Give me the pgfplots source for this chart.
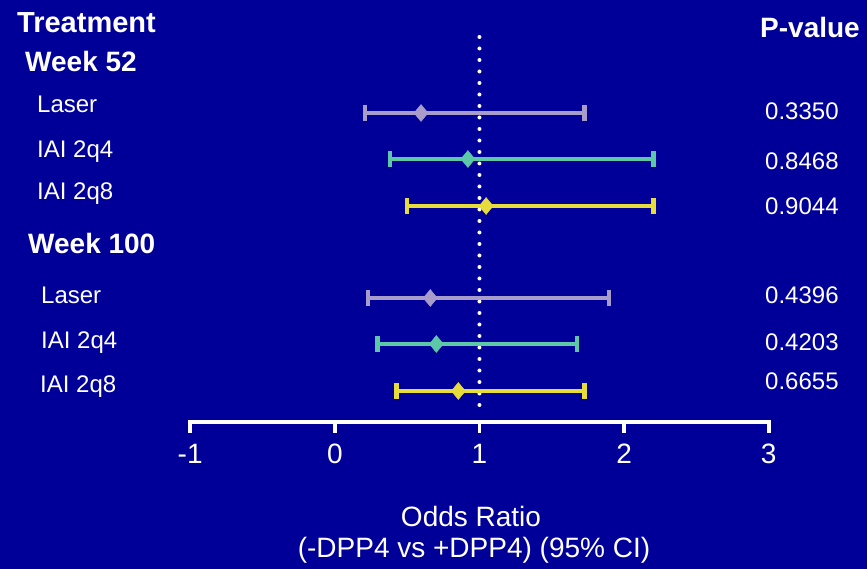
\documentclass[border=0pt]{standalone}
\usepackage{pgfplots}
\pgfplotsset{compat=1.18}
\usepackage{pgfplotstable}
\usepackage{fontspec}
\setmainfont{Liberation Sans}

\definecolor{bg}{HTML}{000099}
\definecolor{laser}{HTML}{A89CCB}
\definecolor{q4}{HTML}{5CC8A8}
\definecolor{q8}{HTML}{E6DC3C}

% odds ratio, lower and upper 95% CI; row = vertical position of the line
\pgfplotstableread{
row  or     lo     hi
113  0.596  0.208  1.726
298  0.660  0.231  1.897
}\laserdata
\pgfplotstableread{
row  or     lo     hi
159  0.920  0.383  2.202
344  0.702  0.296  1.675
}\qfourdata
\pgfplotstableread{
row  or     lo     hi
206  1.046  0.499  2.202
391  0.854  0.428  1.726
}\qeightdata

\newcommand{\pxnode}[4][]{\node[anchor=base west,text=white,inner sep=0pt,#1] at (#2pt,{(569-#3)*1pt}) {#4};}

\pgfplotsset{
  ci/.style={
    color=#1,
    only marks,
    mark=diamond*,
    mark size=8.5pt,
    mark options={xscale=1.1, line width=0.4pt, fill=#1, draw=#1},
    error bars/x dir=both,
    error bars/x explicit,
    error bars/error mark=|,
    error bars/error bar style={#1, line width=4pt},
    error bars/error mark options={#1, line width=4.5pt, mark size=8pt},
  },
}

\begin{document}
\begin{tikzpicture}
\fill[bg] (0,0) rectangle (867pt,569pt);
\begin{axis}[
  at={(0,0)}, anchor=south west,
  scale only axis, width=867pt, height=569pt,
  xmin=-2.3146, xmax=3.6792,
  ymin=0, ymax=569, y dir=reverse,
  hide axis, clip=false,
]
% reference line at OR = 1
\addplot[mark=none, white, line width=4pt, line cap=round,
  dash pattern=on 0pt off 11.5pt] coordinates {(1,37) (1,416)};

\addplot[ci=laser]
  table[x=or, y=row, x error plus expr=\thisrow{hi}-\thisrow{or}, x error minus expr=\thisrow{or}-\thisrow{lo}] {\laserdata};
\addplot[ci=q4]
  table[x=or, y=row, x error plus expr=\thisrow{hi}-\thisrow{or}, x error minus expr=\thisrow{or}-\thisrow{lo}] {\qfourdata};
\addplot[ci=q8]
  table[x=or, y=row, x error plus expr=\thisrow{hi}-\thisrow{or}, x error minus expr=\thisrow{or}-\thisrow{lo}] {\qeightdata};

% x axis
\draw[white, line width=3.5pt] (axis cs:-1,422) -- (axis cs:3,422);
\pgfplotsinvokeforeach{-1,0,1,2,3}{
  \draw[white, line width=3.5pt] (axis cs:#1,420.5) -- (axis cs:#1,433);
  \node[text=white, anchor=base, inner sep=0pt, font=\fontsize{28}{32}\selectfont] at (axis cs:#1,464) {#1};
}
\end{axis}

% row headings
\pxnode[font=\bfseries\fontsize{29}{34}\selectfont]{17}{33}{Treatment}
\pxnode[font=\bfseries\fontsize{28}{33}\selectfont]{25}{72}{Week 52}
\pxnode[font=\fontsize{24}{28}\selectfont]{37}{113}{Laser}
\pxnode[font=\fontsize{24}{28}\selectfont]{37}{158}{IAI 2q4}
\pxnode[font=\fontsize{24}{28}\selectfont]{37}{200}{IAI 2q8}
\pxnode[font=\bfseries\fontsize{28}{33}\selectfont]{28}{254}{Week 100}
\pxnode[font=\fontsize{24}{28}\selectfont]{41}{304}{Laser}
\pxnode[font=\fontsize{24}{28}\selectfont]{41}{349}{IAI 2q4}
\pxnode[font=\fontsize{24}{28}\selectfont]{40}{393}{IAI 2q8}

% p-values
\pxnode[font=\bfseries\fontsize{28}{33}\selectfont]{760}{38}{P-value}
\pxnode[font=\fontsize{24}{28}\selectfont]{765}{120}{0.3350}
\pxnode[font=\fontsize{24}{28}\selectfont]{765}{170}{0.8468}
\pxnode[font=\fontsize{24}{28}\selectfont]{765}{215}{0.9044}
\pxnode[font=\fontsize{24}{28}\selectfont]{765}{304}{0.4396}
\pxnode[font=\fontsize{24}{28}\selectfont]{765}{351}{0.4203}
\pxnode[font=\fontsize{24}{28}\selectfont]{765}{390}{0.6655}

% axis title
\node[anchor=base, text=white, inner sep=0pt, font=\fontsize{28}{32}\selectfont] at (471pt,{(569-527)*1pt}) {Odds Ratio};
\node[anchor=base, text=white, inner sep=0pt, font=\fontsize{28}{32}\selectfont] at (474pt,{(569-558)*1pt}) {(-DPP4 vs +DPP4) (95\% CI)};
\end{tikzpicture}
\end{document}
